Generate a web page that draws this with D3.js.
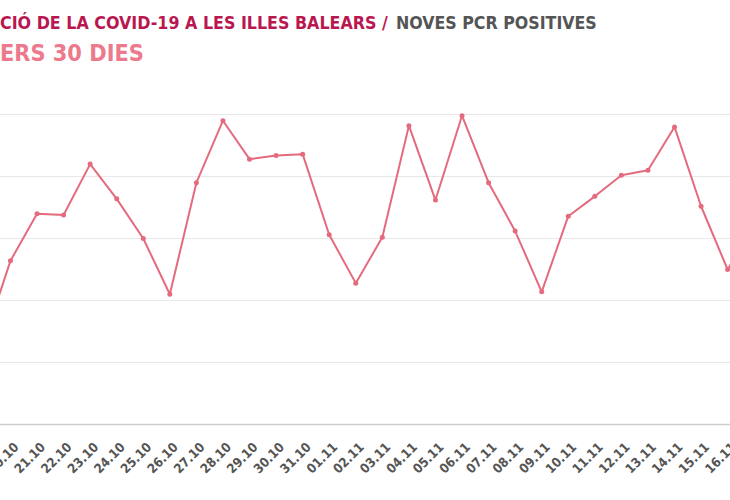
<!DOCTYPE html>
<html>
<head>
<meta charset="utf-8">
<script src="https://cdn.jsdelivr.net/npm/d3@7"></script>
<style>
  html, body { margin: 0; padding: 0; background: #fff; overflow: hidden; }
</style>
</head>
<body>
<div id="chart"></div>
<script>

const dates = [
  '19.10', '20.10', '21.10', '22.10', '23.10', '24.10', '25.10', '26.10',
  '27.10', '28.10', '29.10', '30.10', '31.10', '01.11', '02.11', '03.11',
  '04.11', '05.11', '06.11', '07.11', '08.11', '09.11', '10.11', '11.11',
  '12.11', '13.11', '14.11', '15.11', '16.11', '17.11'
];

const positives = [
  67, 132, 170, 169, 210, 182, 150, 105,
  195, 245, 214, 217, 218, 153, 114, 151,
  241, 181, 249, 195, 156, 107, 168, 184,
  201, 205, 240, 176, 125, 160
];

const yTicks = [0, 50, 100, 150, 200, 250];

const titleMain = 'EVOLUCIÓ DE LA COVID-19 A LES ILLES BALEARS /';
const titleRest = 'NOVES PCR POSITIVES';
const subtitle = 'ELS DARRERS 30 DIES';

const width = 730;
const height = 500;
const font = "'DejaVu Sans Condensed', 'Liberation Sans Narrow', sans-serif";
const titleFont = "'Liberation Sans Narrow', 'DejaVu Sans Condensed', sans-serif";
const lineColor = '#e46b7d';

let svg = d3.select('#chart').append('svg')
  .attr('width', width)
  .attr('height', height);

// scales (the chart is wider than the window, so both ends fall outside)
let x = d3.scalePoint()
  .domain(dates)
  .range([-16.1, 754.2]);

let y = d3.scaleLinear()
  .domain([0, 250])
  .range([424.5, 114.5]);

// Grid lines
svg.append('g')
  .selectAll('line')
  .data(yTicks.slice(1))
  .join('line')
  .attr('x1', 0)
  .attr('x2', width)
  .attr('y1', d => y(d))
  .attr('y2', d => y(d))
  .attr('stroke', '#e8e8e8')
  .attr('stroke-width', 1);

// x axis
let xAxis = svg.append('g')
  .attr('transform', 'translate(0,' + y(0) + ')')
  .call(d3.axisBottom(x).tickSize(0).tickFormat(''));
xAxis.select('.domain')
  .attr('d', 'M0,0H' + width)
  .attr('stroke', '#cfcfcf')
  .attr('stroke-width', 1.5);

svg.append('g')
  .selectAll('text')
  .data(dates)
  .join('text')
  .text(d => d)
  .attr('transform', d => 'translate(' + (x(d) + 9) + ',448) rotate(-45)')
  .attr('text-anchor', 'end')
  .attr('font-family', font)
  .attr('font-weight', 'bold')
  .attr('font-size', 13)
  .attr('fill', '#555');

// Line
let makeLine = d3.line()
  .x((d, i) => x(dates[i]))
  .y(d => y(d));

svg.append('path')
  .attr('d', makeLine(positives))
  .attr('fill', 'none')
  .attr('stroke', lineColor)
  .attr('stroke-width', 2)
  .attr('stroke-linejoin', 'round');

svg.append('g')
  .selectAll('circle')
  .data(positives)
  .join('circle')
  .attr('cx', (d, i) => x(dates[i]))
  .attr('cy', d => y(d))
  .attr('r', 2.5)
  .attr('fill', lineColor);

// Titles: the left part runs off the window, so size each text
// until its visible part lands where the reference has it
function fitText(sel, hiddenChars, visibleStart, visibleEnd) {
  let node = sel.node();
  let size = +sel.attr('font-size');
  let total = node.getComputedTextLength();
  let hidden = hiddenChars ? node.getSubStringLength(0, hiddenChars) : 0;
  let k = (visibleEnd - visibleStart) / (total - hidden);
  sel.attr('font-size', size * k)
    .attr('x', visibleStart - hidden * k);
}

let title = svg.append('text')
  .text(titleMain)
  .attr('y', 29)
  .attr('font-family', titleFont)
  .attr('font-weight', 'bold')
  .attr('font-size', 20)
  .attr('fill', '#b9174f');
fitText(title, 5, 0, 388);

let title2 = svg.append('text')
  .text(titleRest)
  .attr('y', 29)
  .attr('font-family', titleFont)
  .attr('font-weight', 'bold')
  .attr('font-size', 20)
  .attr('fill', '#555');
fitText(title2, 0, 396, 597);

let sub = svg.append('text')
  .text(subtitle)
  .attr('y', 61)
  .attr('font-family', titleFont)
  .attr('font-weight', 'bold')
  .attr('font-size', 26)
  .attr('fill', '#ec7a8c');
fitText(sub, 8, 0, 144);

</script>
</body>
</html>
